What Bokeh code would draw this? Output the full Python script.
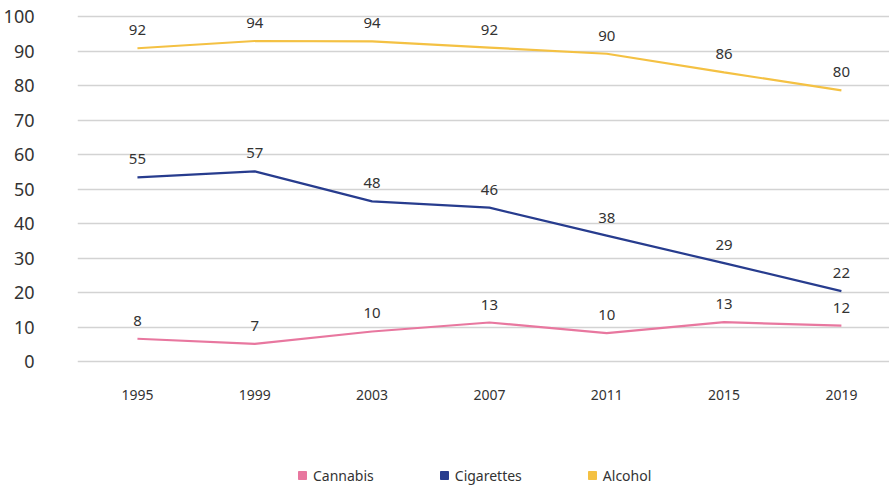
from bokeh.plotting import figure
from bokeh.models import ColumnDataSource, FixedTicker, Range1d, Legend, LegendItem
from bokeh.core.properties import value
from bokeh.embed import file_html
from bokeh.resources import INLINE

years = ["1995", "1999", "2003", "2007", "2011", "2015", "2019"]
alcohol = [90.8, 92.9, 92.8, 91.0, 89.2, 83.8, 78.6]
cigarettes = [53.4, 55.1, 46.4, 44.6, 36.5, 28.5, 20.4]
cannabis = [6.6, 5.1, 8.7, 11.3, 8.2, 11.4, 10.4]
# printed data labels
alcohol_labels = ["92", "94", "94", "92", "90", "86", "80"]
cigarettes_labels = ["55", "57", "48", "46", "38", "29", "22"]
cannabis_labels = ["8", "7", "10", "13", "10", "13", "12"]
y_ticks = [0, 10, 20, 30, 40, 50, 60, 70, 80, 90, 100]

FONT = "Noto Sans"
TXT = "#333333"
series = [
    ("Cannabis", cannabis, cannabis_labels, "#E8779F"),
    ("Cigarettes", cigarettes, cigarettes_labels, "#273C8E"),
    ("Alcohol", alcohol, alcohol_labels, "#F4C143"),
]

xs = list(range(len(years)))

p = figure(width=889, height=485, output_backend="svg", toolbar_location=None,
           x_range=Range1d(-0.511, 6.41), y_range=Range1d(-35.94, 104.64),
           min_border_left=77, min_border_right=0, min_border_top=0, min_border_bottom=0)
p.outline_line_color = None
p.background_fill_color = "white"
p.border_fill_color = "white"

p.xgrid.visible = False
p.ygrid.ticker = FixedTicker(ticks=y_ticks)
p.ygrid.grid_line_color = "#D3D3D3"
p.ygrid.grid_line_width = 1.5

ya = p.yaxis[0]
ya.ticker = FixedTicker(ticks=y_ticks)
ya.axis_line_color = None
ya.major_tick_line_color = None
ya.minor_tick_line_color = None
ya.major_label_standoff = 37
ya.major_label_text_font = FONT
ya.major_label_text_font_size = "18px"
ya.major_label_text_color = TXT

xa = p.xaxis[0]
xa.fixed_location = 0
xa.ticker = FixedTicker(ticks=xs)
xa.major_label_overrides = {i: y for i, y in zip(xs, years)}
xa.axis_line_color = None
xa.major_tick_line_color = None
xa.minor_tick_line_color = None
xa.major_label_standoff = 22
xa.major_label_text_font = FONT
xa.major_label_text_font_size = "14px"
xa.major_label_text_color = TXT

items = []
for name, vals, labs, col in series:
    src = ColumnDataSource(dict(x=xs, y=vals, t=labs))
    p.line("x", "y", source=src, line_color=col, line_width=2.2)
    p.text("x", "y", text="t", source=src, text_align="center", text_baseline="middle",
           y_offset=-18, text_font=value(FONT), text_font_size="15px", text_color=TXT)
    sq = p.scatter(x=[float("nan")], y=[float("nan")], marker="square", color=col, size=8)
    items.append(LegendItem(label=name, renderers=[sq], index=0))

legend = Legend(items=items, orientation="horizontal", location=(215, 0),
                glyph_width=20, glyph_height=20, label_standoff=1, spacing=60,
                padding=0, margin=0, border_line_color=None, background_fill_alpha=0,
                label_height=20,
                label_text_font=FONT, label_text_font_size="14px", label_text_color=TXT)
p.add_layout(legend, "center")

open("out.html", "w").write(file_html(p, INLINE))
